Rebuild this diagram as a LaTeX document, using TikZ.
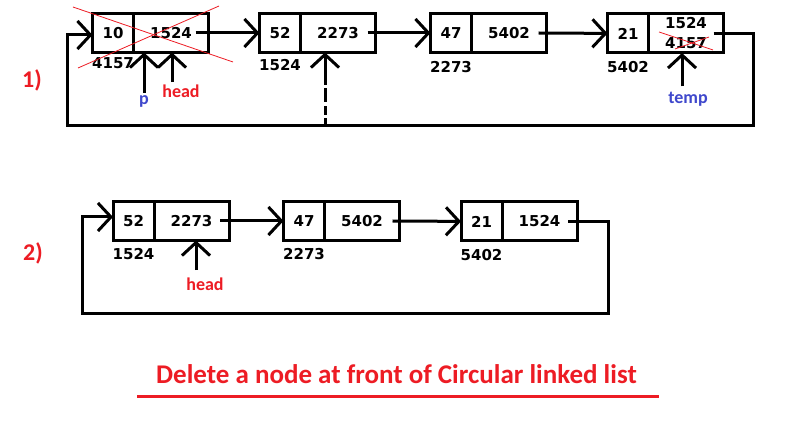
\documentclass[tikz,border=0pt]{standalone}
\usepackage{fontspec}
\newfontfamily\numfont{DejaVu Sans}
\newfontfamily\lblfont{Carlito}
\usepackage{tikz}
\usetikzlibrary{arrows.meta, calc, positioning}
\definecolor{paintred}{HTML}{ED1C24}
\definecolor{paintblue}{HTML}{3F48CC}

\begin{document}
\begin{tikzpicture}[% styles used in image code
  x=1pt, y=-1pt,  % one unit = one pixel of the sketch
         > = {Straight Barb[length=13pt, width=28pt]}, % defined in "arrows.meta
line width=3pt,
data/.style = {draw, minimum width=41pt, minimum height=39pt,
               inner sep=0pt, outer sep=0pt,
               font=\numfont\bfseries\fontsize{15}{20}\selectfont},
link/.style = {data, minimum width=75pt, align=center},
addr/.style = {inner sep=1pt,
               font=\numfont\bfseries\fontsize{15}{16}\selectfont},
ptr/.style  = {inner sep=1pt,
               font=\lblfont\bfseries\fontsize{18}{20}\selectfont},
stage/.style = {text=paintred,
               font=\lblfont\bfseries\fontsize{24}{26}\selectfont},
cross/.style = {draw=paintred, line width=0.8pt}
                    ]
	\fill[white] (0,0) rectangle (788,438);

	% 1) list before deleting
	\node[data] (a1) at (113,33) {10};
	\node[link, right=0pt of a1] (a2) {1524};
	\node[addr, below=3pt of a1] (aa) {4157};

	\node[data] (b1) at (280,33) {52};
	\node[link, right=0pt of b1] (b2) {2273};
	\node[addr, below=4pt of b1] (bb) {1524};

	\node[data] (c1) at (451,33) {47};
	\node[link, right=0pt of c1] (c2) {5402};
	\node[addr, below=6pt of c1] (cc) {2273};

	\node[data] (d1) at (628,33.5) {21};
	\node[link, right=0pt of d1] (d2) {1524\\4157};
	\node[addr, below=6pt of d1] (dd) {5402};

	\draw[->] ([xshift=-13pt]a2.east) -- (b1);
	\draw[->] ([xshift=-8pt]b2.east) -- (c1);
	\draw[->] ([xshift=-8pt]c2.east) -- (d1);

	\coordinate (r1) at (753,126);
	\coordinate (l1) at (67,126);
	\draw[->] ([xshift=-10pt]d2.east) -| (r1) -- (l1) |- ([yshift=-2pt]a1.west);

	% crossed out
	\draw[cross] (73,7) -- (233,62);
	\draw[cross] (78,68) -- (219,6);
	\draw[cross] (659,32) -- (713,50);
	\draw[cross] (675,49) -- (709,37);

	% pointers
	\node[ptr, text=paintblue] (p) at (144,101) {p};
	\draw[->] (p) -- (p |- a2.south);

	\node[ptr, text=paintred] (head1) at (181,91) {head};
	\path ($(head1.north)+(-9,0)$) coordinate (h1);
	\draw[->] (h1) -- (h1 |- a2.south);

	\node[ptr, text=paintblue] (temp) at (688,99) {temp};
	\path ($(temp.north)+(-6,-3)$) coordinate (t1);
	\draw[->] (t1) -- (t1 |- d2.south);

	\coordinate (db) at (325,126);
	\draw[->, dash pattern=on 8pt off 3pt on 9pt off 4pt on 14pt off 3pt on 40pt off 1pt]
	  (db) -- (db |- b2.south);

	\node[stage] (s1) at (32,80) {1)};

	% 2) list after deleting
	\node[data] (e1) at (133.5,221) {52};
	\node[link, right=0pt of e1] (e2) {2273};
	\node[addr, below=5pt of e1] (ee) {1524};

	\node[data] (f1) at (304,221) {47};
	\node[link, right=0pt of f1] (f2) {5402};
	\node[addr, below=5pt of f1] (ff) {2273};

	\node[data] (g1) at (481.5,221.5) {21};
	\node[link, right=0pt of g1] (g2) {1524};
	\node[addr, below=6pt of g1] (gg) {5402};

	\draw[->] ([xshift=-9pt]e2.east) -- (f1);
	\draw[->] ([xshift=-7pt]f2.east) -- (g1);

	\coordinate (r2) at (608,314);
	\coordinate (l2) at (82,314);
	\draw[->] ([xshift=-9pt]g2.east) -| (r2) -- (l2) |- ([yshift=4pt]e1.west);

	\node[ptr, text=paintred] (head2) at (205,284) {head};
	\path ($(head2.north)+(-9,-5)$) coordinate (h2);
	\draw[->] (h2) -- (h2 |- e2.south);

	\node[stage] (s2) at (33,253) {2)};

	% caption
	\node[anchor=base, text=paintred,
	      font=\lblfont\bfseries\fontsize{27}{30}\selectfont] (title) at (396.5,384)
	  {Delete a node at front of Circular linked list};
	\draw[paintred] (137,397) -- (659,397);
\end{tikzpicture}
\end{document}
